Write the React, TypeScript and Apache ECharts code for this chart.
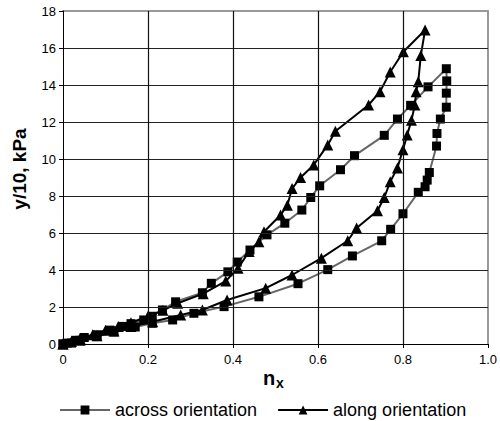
import React, { useEffect, useRef } from "react";
import * as echarts from "echarts";

const xTicks = ["0", "0.2", "0.4", "0.6", "0.8", "1.0"];
const seriesNames = ["across orientation", "along orientation"];
const yTitle = "y/10, kPa";

const acrossX = [0, 0.01, 0.03, 0.05, 0.08, 0.11, 0.14, 0.16, 0.19, 0.21, 0.234, 0.265, 0.328, 0.349, 0.388, 0.41, 0.44, 0.48, 0.522, 0.562, 0.583, 0.604, 0.653, 0.686, 0.756, 0.787, 0.818, 0.859, 0.902,
  0.903, 0.902, 0.902, 0.888, 0.88, 0.879, 0.862, 0.857, 0.852, 0.836, 0.8, 0.771, 0.75, 0.681, 0.623, 0.553, 0.461, 0.379, 0.308, 0.258, 0.21, 0.17, 0.12, 0.08, 0.04, 0.02, 0];
const acrossY = [0, 0.05, 0.2, 0.35, 0.5, 0.75, 0.95, 1.1, 1.3, 1.5, 1.84, 2.28, 2.77, 3.28, 3.9, 4.43, 5.08, 5.9, 6.53, 7.24, 7.92, 8.55, 9.42, 10.18, 11.28, 12.16, 12.9, 13.9, 14.88,
  14.22, 13.56, 12.8, 12.16, 11.38, 10.7, 9.27, 8.86, 8.5, 8.2, 7.04, 6.2, 5.58, 4.76, 4.02, 3.26, 2.55, 2.02, 1.66, 1.3, 1.12, 0.92, 0.65, 0.4, 0.2, 0.05, 0];

const alongX = [0, 0.02, 0.04, 0.07, 0.1, 0.13, 0.16, 0.2, 0.235, 0.27, 0.33, 0.383, 0.412, 0.438, 0.461, 0.473, 0.512, 0.528, 0.539, 0.559, 0.59, 0.623, 0.641, 0.719, 0.746, 0.77, 0.801, 0.852,
  0.842, 0.836, 0.831, 0.828, 0.82, 0.81, 0.8, 0.787, 0.77, 0.756, 0.74, 0.691, 0.67, 0.608, 0.539, 0.477, 0.386, 0.328, 0.277, 0.211, 0.16, 0.12, 0.08, 0.04, 0];
const alongY = [0, 0.15, 0.3, 0.5, 0.75, 0.95, 1.15, 1.5, 1.82, 2.2, 2.72, 3.4, 4.1, 5.0, 5.53, 6.07, 6.97, 7.5, 8.4, 9.0, 9.68, 10.76, 11.5, 12.92, 13.64, 14.7, 15.8, 16.97,
  15.6, 14.18, 13.64, 12.92, 12.1, 11.3, 10.5, 9.52, 8.77, 7.92, 7.2, 6.27, 5.58, 4.64, 3.73, 3.02, 2.38, 1.84, 1.57, 1.2, 0.95, 0.7, 0.45, 0.2, 0];

const pairs = (xs: number[], ys: number[]) => xs.map((x, i) => [x, ys[i]]);

export default function App() {
  const ref = useRef<HTMLDivElement>(null);
  useEffect(() => {
    if (!ref.current) return;
    const chart = echarts.init(ref.current, undefined, { renderer: "svg" });
    const font = "Arial, 'Liberation Sans', sans-serif";
    const hidden = { axisLabel: { show: false }, axisTick: { show: false }, splitLine: { show: false } };
    chart.setOption({
      animation: false,
      backgroundColor: "#fff",
      textStyle: { fontFamily: font },
      grid: { left: 63, right: 10, top: 11, bottom: 77, show: false },
      xAxis: [
        {
          type: "value",
          min: 0,
          max: 1,
          interval: 0.2,
          z: 5,
          axisLine: { show: true, onZero: false, lineStyle: { color: "#000", width: 1 } },
          axisTick: { show: true, length: 4, lineStyle: { color: "#000" } },
          axisLabel: {
            color: "#000",
            fontSize: 13,
            margin: 9,
            fontFamily: font,
            formatter: (v: number) => xTicks[Math.round(v / 0.2)] ?? String(v),
          },
          splitLine: { show: true, showMinLine: false, showMaxLine: false, lineStyle: { color: "#111", width: 1.2 } },
        },
        {
          type: "value",
          position: "top",
          min: 0,
          max: 1,
          interval: 0.2,
          axisLine: { show: true, onZero: false, lineStyle: { color: "#999", width: 2 } },
          ...hidden,
        },
      ],
      yAxis: [
        {
          type: "value",
          min: 0,
          max: 18,
          interval: 2,
          z: 5,
          axisLine: { show: true, onZero: false, lineStyle: { color: "#000", width: 1 } },
          axisTick: { show: true, length: 4, lineStyle: { color: "#000" } },
          axisLabel: { color: "#000", fontSize: 13, margin: 7, fontFamily: font },
          splitLine: { show: true, showMinLine: false, showMaxLine: false, lineStyle: { color: "#222", width: 1.2 } },
        },
        {
          type: "value",
          position: "right",
          min: 0,
          max: 18,
          interval: 2,
          axisLine: { show: true, onZero: false, lineStyle: { color: "#999", width: 2 } },
          ...hidden,
        },
      ],
      legend: {
        top: 396,
        left: 54,
        itemWidth: 50,
        itemHeight: 11,
        itemGap: 20,
        textStyle: { fontSize: 18, color: "#000", fontFamily: font },
        data: seriesNames,
      },
      graphic: [
        {
          type: "text",
          x: 19,
          y: 169,
          rotation: Math.PI / 2,
          style: {
            text: yTitle,
            font: `bold 19px ${font}`,
            fill: "#000",
            textAlign: "center",
            textVerticalAlign: "middle",
          },
        },
        {
          type: "group",
          left: 263,
          top: 368,
          children: [
            { type: "text", x: 0, y: 0, style: { text: "n", font: `bold 20px ${font}`, fill: "#000" } },
            { type: "text", x: 13, y: 8, style: { text: "x", font: `bold 14px ${font}`, fill: "#000" } },
          ],
        },
      ],
      series: [
        {
          name: seriesNames[0],
          type: "line",
          data: pairs(acrossX, acrossY),
          symbol: "rect",
          symbolSize: 9,
          itemStyle: { color: "#000" },
          lineStyle: { color: "#666", width: 2 },
          z: 2,
        },
        {
          name: seriesNames[1],
          type: "line",
          data: pairs(alongX, alongY),
          symbol: "triangle",
          symbolSize: 11,
          itemStyle: { color: "#000" },
          lineStyle: { color: "#000", width: 2 },
          z: 3,
        },
      ],
    });
    return () => chart.dispose();
  }, []);
  return <div ref={ref} style={{ position: "fixed", left: 0, top: 0, width: 500, height: 421 }} />;
}
